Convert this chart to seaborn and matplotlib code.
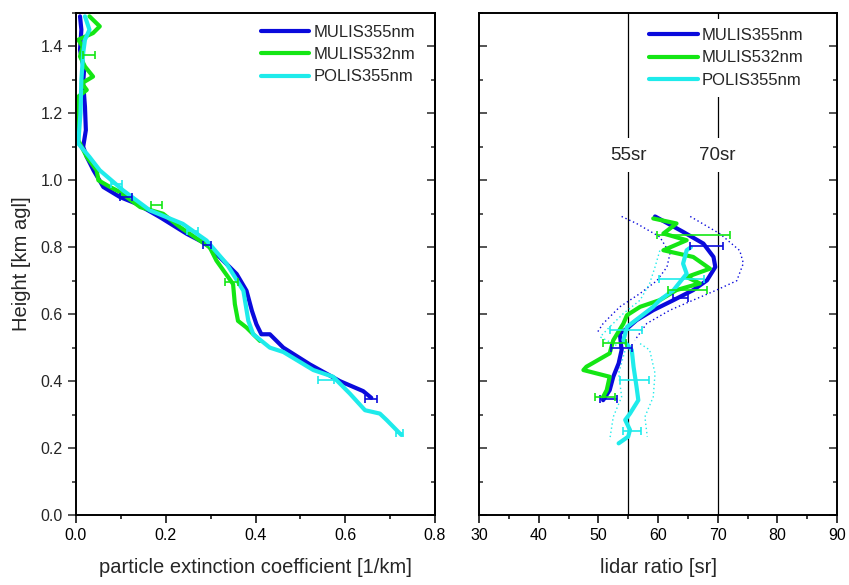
import numpy as np
import pandas as pd
import matplotlib
matplotlib.use("Agg")
import matplotlib.pyplot as plt
import seaborn as sns
from matplotlib.ticker import MultipleLocator

sns.set_style("ticks")
plt.rcParams['font.family'] = ['Liberation Sans', 'DejaVu Sans']

# ---------------- data ----------------
series_names = ["MULIS355nm", "MULIS532nm", "POLIS355nm"]
series_colors = ["#0A0ADC", "#14E614", "#1EEBEB"]

# extinction profiles (left panel)
ext_m355_h = [1.49, 1.45, 1.39, 1.33, 1.29, 1.22, 1.15, 1.10, 1.07, 1.03, 0.98, 0.95, 0.93, 0.89,
              0.84, 0.81, 0.76, 0.72, 0.67, 0.61, 0.57, 0.54, 0.54, 0.50, 0.45, 0.40, 0.37, 0.35]
ext_m355_x = [0.009, 0.012, 0.009, 0.018, 0.016, 0.020, 0.022, 0.016, 0.024, 0.039, 0.061, 0.098, 0.135, 0.187,
              0.247, 0.290, 0.328, 0.358, 0.380, 0.392, 0.402, 0.413, 0.432, 0.462, 0.521, 0.588, 0.640, 0.658]

ext_m532_h = [1.49, 1.46, 1.44, 1.42, 1.40, 1.37, 1.34, 1.31, 1.29, 1.27, 1.25, 1.12, 1.07, 1.03, 1.00,
              0.98, 0.965, 0.92, 0.90, 0.86, 0.80, 0.76, 0.69, 0.63, 0.58, 0.56, 0.52]
ext_m532_x = [0.030, 0.053, 0.038, 0.005, 0.015, 0.009, 0.020, 0.038, 0.013, 0.024, 0.005, 0.005, 0.024, 0.046, 0.050,
              0.076, 0.098, 0.143, 0.194, 0.232, 0.298, 0.313, 0.350, 0.354, 0.361, 0.380, 0.410]

ext_p355_h = [1.49, 1.45, 1.42, 1.38, 1.30, 1.20, 1.11, 1.07, 1.03, 0.97, 0.91, 0.87, 0.82, 0.75, 0.67,
              0.58, 0.54, 0.50, 0.487, 0.433, 0.413, 0.363, 0.313, 0.303, 0.284, 0.254, 0.239]
ext_p355_x = [0.020, 0.030, 0.020, 0.016, 0.012, 0.010, 0.005, 0.030, 0.053, 0.105, 0.165, 0.238, 0.291, 0.336, 0.373,
              0.384, 0.395, 0.432, 0.462, 0.529, 0.573, 0.610, 0.644, 0.677, 0.692, 0.714, 0.725]

# extinction error bars
ext_err_m355_h = [0.95, 0.806, 0.348]
ext_err_m355_x = [0.111, 0.292, 0.657]
ext_err_m355_e = [0.013, 0.009, 0.013]
ext_err_m532_h = [1.373, 0.925, 0.696]
ext_err_m532_x = [0.029, 0.180, 0.346]
ext_err_m532_e = [0.013, 0.012, 0.015]
ext_err_p355_h = [0.99, 0.85, 0.403, 0.244]
ext_err_p355_x = [0.090, 0.260, 0.557, 0.721]
ext_err_p355_e = [0.012, 0.012, 0.017, 0.007]

# lidar ratio profiles (right panel)
lr_m355_h = [0.892, 0.846, 0.811, 0.771, 0.741, 0.701, 0.672, 0.642, 0.612, 0.582, 0.557, 0.542,
             0.493, 0.453, 0.413, 0.373, 0.343]
lr_m355_x = [59.5, 64.2, 67.6, 69.3, 69.6, 68.2, 65.9, 62.6, 59.2, 56.4, 54.8, 53.6,
             53.9, 53.4, 52.5, 51.9, 50.8]

lr_m532_h = [0.886, 0.871, 0.841, 0.821, 0.791, 0.771, 0.736, 0.711, 0.692, 0.672, 0.642, 0.622,
             0.597, 0.572, 0.522, 0.483, 0.443, 0.433, 0.413, 0.373, 0.353]
lr_m532_x = [59.2, 63.1, 60.9, 64.8, 60.9, 65.9, 68.7, 64.8, 67.0, 63.1, 60.3, 57.0,
             54.8, 54.2, 52.5, 51.9, 48.0, 47.5, 51.9, 51.4, 50.8]

lr_p355_h = [0.800, 0.791, 0.751, 0.721, 0.672, 0.642, 0.622, 0.592, 0.562, 0.522, 0.493, 0.443,
             0.383, 0.343, 0.303, 0.284, 0.254, 0.234, 0.214]
lr_p355_x = [65.5, 64.8, 64.2, 64.8, 62.6, 60.3, 59.2, 57.0, 54.8, 54.2, 55.6, 55.9,
             56.4, 56.7, 55.3, 54.5, 55.3, 55.0, 53.4]

# lidar ratio uncertainty envelopes (dotted)
lr_m355_hi_h = [0.892, 0.840, 0.790, 0.752, 0.700, 0.672, 0.642, 0.612, 0.572, 0.522]
lr_m355_hi_x = [65.4, 70.4, 73.7, 74.3, 73.2, 69.8, 65.9, 62.0, 58.1, 56.1]
lr_m355_lo_h = [0.892, 0.871, 0.831, 0.781, 0.741, 0.700, 0.662, 0.622, 0.572, 0.542]
lr_m355_lo_x = [53.9, 56.4, 60.3, 62.0, 61.5, 59.8, 57.0, 53.6, 50.8, 49.7]
lr_p355_hi_h = [0.512, 0.493, 0.423, 0.353, 0.293, 0.234]
lr_p355_hi_x = [57.0, 58.6, 59.5, 59.2, 57.8, 58.2]
lr_p355_lo_h = [0.790, 0.741, 0.692, 0.642, 0.602, 0.562, 0.532, 0.493, 0.423, 0.353, 0.293, 0.224]
lr_p355_lo_x = [60.3, 59.5, 58.6, 57.0, 54.2, 51.9, 50.3, 54.5, 53.4, 53.9, 52.5, 51.9]

# lidar ratio error bars
lr_err_m355_h = [0.803, 0.647, 0.498, 0.346]
lr_err_m355_x = [68.15, 63.75, 53.9, 51.7]
lr_err_m355_e = [2.75, 1.25, 1.7, 1.4]
lr_err_m532_h = [0.836, 0.672, 0.513, 0.353]
lr_err_m532_x = [65.9, 64.9, 52.75, 51.1]
lr_err_m532_e = [6.1, 3.3, 1.95, 1.7]
lr_err_p355_h = [0.704, 0.552, 0.403, 0.252]
lr_err_p355_x = [63.95, 54.65, 56.05, 55.65]
lr_err_p355_e = [3.75, 2.65, 2.45, 1.55]

ref_lr_values = [55, 70]
ref_lr_labels = ["55sr", "70sr"]

# ---------------- figure ----------------
fig = plt.figure(figsize=(8.49, 5.85), dpi=100)
axL = fig.add_axes([0.0895, 0.1197, 0.4229, 0.8581])
axR = fig.add_axes([0.5642, 0.1197, 0.4217, 0.8581])

ext_x = [ext_m355_x, ext_m532_x, ext_p355_x]
ext_h = [ext_m355_h, ext_m532_h, ext_p355_h]
for name, col, xs, hs in zip(series_names, series_colors, ext_x, ext_h):
    df = pd.DataFrame({"x": xs, "h": hs})
    sns.lineplot(data=df, x="x", y="h", sort=False, estimator=None, color=col,
                 lw=3, label=name, ax=axL)

for col, hs, xs, es in zip(series_colors,
                           [ext_err_m355_h, ext_err_m532_h, ext_err_p355_h],
                           [ext_err_m355_x, ext_err_m532_x, ext_err_p355_x],
                           [ext_err_m355_e, ext_err_m532_e, ext_err_p355_e]):
    axL.errorbar(xs, hs, xerr=es, fmt="none", ecolor=col, elinewidth=1.2, capsize=3, capthick=1.2)

# right panel
for v in ref_lr_values:
    axR.axvline(v, color="black", lw=0.9, zorder=1)

env = [(lr_m355_hi_x, lr_m355_hi_h, series_colors[0]), (lr_m355_lo_x, lr_m355_lo_h, series_colors[0]),
       (lr_p355_hi_x, lr_p355_hi_h, series_colors[2]), (lr_p355_lo_x, lr_p355_lo_h, series_colors[2])]
for xs, hs, col in env:
    df = pd.DataFrame({"x": xs, "h": hs})
    sns.lineplot(data=df, x="x", y="h", sort=False, estimator=None, color=col,
                 lw=1.0, ls=(0, (1, 2)), ax=axR, legend=False)

lr_x = [lr_m355_x, lr_m532_x, lr_p355_x]
lr_h = [lr_m355_h, lr_m532_h, lr_p355_h]
for name, col, xs, hs in zip(series_names, series_colors, lr_x, lr_h):
    df = pd.DataFrame({"x": xs, "h": hs})
    sns.lineplot(data=df, x="x", y="h", sort=False, estimator=None, color=col,
                 lw=3, label=name, ax=axR)

for col, hs, xs, es in zip(series_colors,
                           [lr_err_m355_h, lr_err_m532_h, lr_err_p355_h],
                           [lr_err_m355_x, lr_err_m532_x, lr_err_p355_x],
                           [lr_err_m355_e, lr_err_m532_e, lr_err_p355_e]):
    axR.errorbar(xs, hs, xerr=es, fmt="none", ecolor=col, elinewidth=1.2, capsize=3, capthick=1.2)

for v, lab in zip(ref_lr_values, ref_lr_labels):
    axR.text(v, 1.075, lab, ha="center", va="center", fontsize=13.5, zorder=5,
             bbox=dict(fc="white", ec="none", pad=6))

# ---------------- axes styling ----------------
for ax in (axL, axR):
    ax.set_ylim(0, 1.5)
    for s in ax.spines.values():
        s.set_visible(True)
        s.set_linewidth(1.4)
        s.set_color("black")
        s.set_zorder(12)
    ax.yaxis.set_major_locator(MultipleLocator(0.2))
    ax.yaxis.set_minor_locator(MultipleLocator(0.1))
    ax.tick_params(axis="x", which="both", direction="out", bottom=True, top=False,
                   labelsize=11.5, width=1.1, colors="black")
    ax.tick_params(axis="x", which="major", length=6)
    ax.tick_params(axis="x", which="minor", length=3)
    ax.set_facecolor("white")

axL.set_xlim(0, 0.8)
axL.xaxis.set_major_locator(MultipleLocator(0.2))
axL.xaxis.set_minor_locator(MultipleLocator(0.1))
axL.xaxis.set_major_formatter(matplotlib.ticker.FormatStrFormatter("%.1f"))
axL.yaxis.set_major_formatter(matplotlib.ticker.FormatStrFormatter("%.1f"))
axL.tick_params(axis="y", which="both", direction="out", left=True, right=False,
                labelsize=11.5, width=1.1)
axL.tick_params(axis="y", which="major", length=6)
axL.tick_params(axis="y", which="minor", length=3)
sec = axL.secondary_yaxis("right")
sec.yaxis.set_major_locator(MultipleLocator(0.2))
sec.yaxis.set_minor_locator(MultipleLocator(0.1))
sec.tick_params(axis="y", which="both", direction="in", labelright=False, width=1.1)
sec.tick_params(axis="y", which="major", length=6)
sec.tick_params(axis="y", which="minor", length=3)
sec.spines["right"].set_linewidth(1.4)

axR.set_xlim(30, 90)
axR.xaxis.set_major_locator(MultipleLocator(10))
axR.xaxis.set_minor_locator(MultipleLocator(5))
axR.tick_params(axis="y", which="both", direction="in", left=True, right=True,
                labelleft=False, width=1.1)
axR.tick_params(axis="y", which="major", length=6)
axR.tick_params(axis="y", which="minor", length=3)

axL.set_xlabel("particle extinction coefficient [1/km]", fontsize=14.5, labelpad=11)
axR.set_xlabel("lidar ratio [sr]", fontsize=14.5, labelpad=11)
axL.set_ylabel("Height [km agl]", fontsize=14.5, labelpad=7)
axR.set_ylabel("")

leg_kw = dict(loc="upper left", fontsize=12, frameon=True, facecolor="white", edgecolor="none",
              framealpha=1, handlelength=2.9, handletextpad=0.25, labelspacing=0.43,
              borderpad=0.55, borderaxespad=0)
legL = axL.legend(bbox_to_anchor=(0.49, 0.994), **leg_kw)
legR = axR.legend(bbox_to_anchor=(0.45, 0.988), **leg_kw)
for lg in (legL, legR):
    lg.set_zorder(10)
    for h in lg.get_lines():
        h.set_linewidth(3)

fig.savefig("out.png", dpi=100, facecolor="white")
